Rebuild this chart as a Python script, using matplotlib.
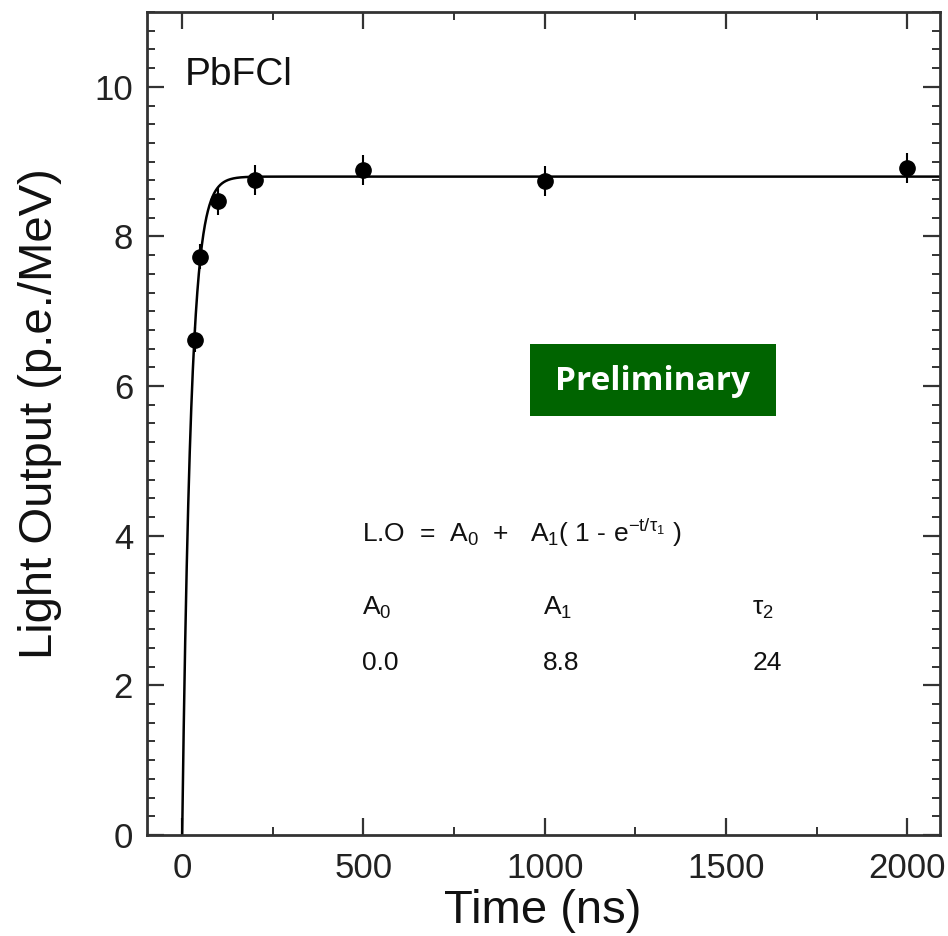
import numpy as np
import matplotlib
matplotlib.use("Agg")
import matplotlib.pyplot as plt
from matplotlib.patches import Rectangle
from matplotlib.ticker import MultipleLocator

# ---- data ----
time_ns = [35, 50, 100, 200, 500, 1000, 2000]
light_output = [6.62, 7.73, 8.47, 8.75, 8.89, 8.74, 8.91]
light_err = [0.17, 0.17, 0.18, 0.2, 0.2, 0.2, 0.2]

A0 = 0.0
A1 = 8.8
tau1 = 24.0

x_ticks = [0, 500, 1000, 1500, 2000]
y_ticks = [0, 2, 4, 6, 8, 10]

plt.rcParams['font.family'] = ['Liberation Sans', 'DejaVu Sans']
plt.rcParams['mathtext.fontset'] = 'custom'
plt.rcParams['mathtext.rm'] = 'Liberation Sans'
plt.rcParams['mathtext.it'] = 'Liberation Sans'
plt.rcParams['mathtext.sf'] = 'Liberation Sans'

fig = plt.figure(figsize=(9.48, 9.36), dpi=100)
ax = fig.add_axes([147/948, 101/936, 793/948, 823/936])

# fit curve
t = np.linspace(0, 2090, 3000)
ax.plot(t, A0 + A1 * (1 - np.exp(-t / tau1)), color='black', lw=1.8, zorder=2)

# data points
ax.errorbar(time_ns, light_output, yerr=light_err, fmt='o', color='black',
            ms=11, elinewidth=1.5, capsize=0, zorder=3)

ax.set_xlim(-97, 2090)
ax.set_ylim(0, 11)
ax.set_xticks(x_ticks)
ax.set_yticks(y_ticks)
ax.xaxis.set_minor_locator(MultipleLocator(250))
ax.yaxis.set_minor_locator(MultipleLocator(0.25))

ax.tick_params(which='both', direction='in', top=True, right=True,
               colors='#333333', labelcolor='#222222')
ax.tick_params(which='major', length=12, width=1.6, labelsize=25, pad=10)
ax.tick_params(which='minor', length=6, width=1.4)
ax.tick_params(axis='x', which='major', pad=12)
for s in ax.spines.values():
    s.set_linewidth(2.0)
    s.set_color('#333333')

ax.set_xlabel('Time (ns)', fontsize=34, color='#111111')
ax.set_ylabel('Light Output (p.e./MeV)', fontsize=34, color='#111111')
ax.xaxis.set_label_coords(0.499, -0.066)
ax.yaxis.set_label_coords(-0.107, 0.512)

# annotations
ax.text(6, 10.03, 'PbFCl', fontsize=28, va='baseline', ha='left', color='#111111')
fs = 19
ax.text(497, 3.92, r'L.O  =  A$_0$  +   A$_1$( 1 - e$^{-t/\tau_1}$ )', fontsize=fs,
        va='baseline', ha='left', color='#111111')
ax.text(497, 2.94, r'A$_0$', fontsize=fs, va='baseline', ha='left', color='#111111')
ax.text(996, 2.94, r'A$_1$', fontsize=fs, va='baseline', ha='left', color='#111111')
ax.text(1572, 2.94, r'$\tau_2$', fontsize=fs, va='baseline', ha='left', color='#111111')
ax.text(497, 2.21, f'{A0:.1f}', fontsize=fs, va='baseline', ha='left', color='#111111')
ax.text(996, 2.21, f'{A1:.1f}', fontsize=fs, va='baseline', ha='left', color='#111111')
ax.text(1572, 2.21, f'{tau1:.0f}', fontsize=fs, va='baseline', ha='left', color='#111111')

# Preliminary box
fig.patches.append(Rectangle((530/948, (936-416)/936), 246/948, 72/936,
                             transform=fig.transFigure, facecolor='#006400',
                             edgecolor='none', zorder=5))
fig.text(653/948, (936-382)/936, 'Preliminary', fontsize=24, fontweight='bold',
         family=['Open Sans', 'DejaVu Sans'], color='white', ha='center', va='center', zorder=6)

fig.savefig('out.png', dpi=100)
